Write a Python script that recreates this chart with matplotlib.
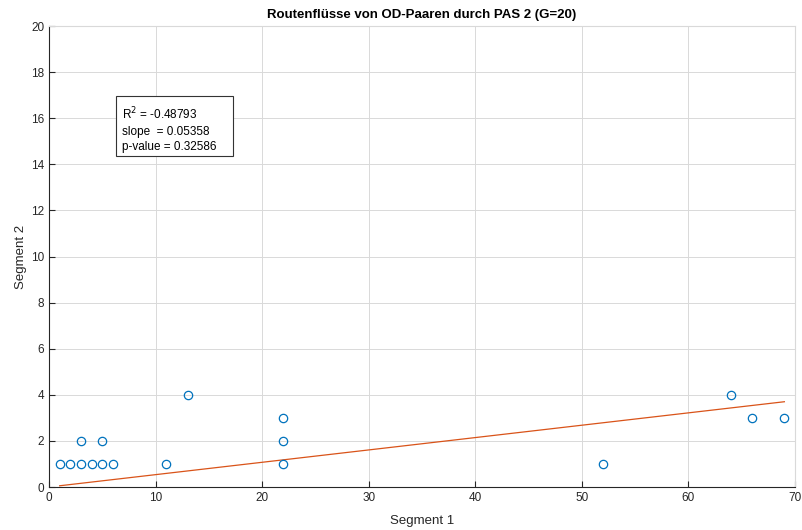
import matplotlib
matplotlib.use("Agg")
import matplotlib.pyplot as plt
from matplotlib.patches import Rectangle

plt.rcParams['font.family'] = ['Liberation Sans', 'DejaVu Sans']

seg1 = [1, 2, 3, 3, 4, 5, 5, 6, 11, 13, 22, 22, 22, 52, 64, 66, 69]
seg2 = [1, 1, 1, 2, 1, 1, 2, 1, 1, 4, 1, 2, 3, 1, 4, 3, 3]
fit_x = [1, 69]
fit_y = [0.054, 3.70]
title = "Routenflüsse von OD-Paaren durch PAS 2 (G=20)"
stats_text = "R$^2$ = -0.48793\nslope  = 0.05358\np-value = 0.32586"

fig = plt.figure(figsize=(8.02, 5.30), dpi=100)
ax = fig.add_axes([0.0611, 0.0811, 0.9302, 0.8698])

axc = (0.15, 0.15, 0.15)
lite = (0.85, 0.85, 0.85)
ax.plot(seg1, seg2, linestyle='none', marker='o', markersize=6, markerfacecolor='none',
        markeredgecolor='#0072BD', markeredgewidth=0.9, zorder=3)
ax.plot(fit_x, fit_y, color='#D95319', linewidth=0.9, zorder=2)

ax.set_xlim(0, 70)
ax.set_ylim(0, 20)
ax.set_xticks(range(0, 71, 10))
ax.set_yticks(range(0, 21, 2))
ax.grid(True, color=lite, linewidth=0.7)
ax.set_axisbelow(True)
for side in ['left', 'bottom']:
    ax.spines[side].set_color(axc)
    ax.spines[side].set_linewidth(0.8)
for side in ['top', 'right']:
    ax.spines[side].set_color(lite)
    ax.spines[side].set_linewidth(0.8)
ax.tick_params(colors=axc, labelsize=8.5, direction='in', length=4, width=0.8)
ax.set_xlabel("Segment 1", fontsize=9.5, color=axc, labelpad=8)
ax.set_ylabel("Segment 2", fontsize=9.5, color=axc, labelpad=3)
ax.set_title(title, fontsize=9.5, fontweight='bold', color='black', pad=6)

ax.add_patch(Rectangle((0.0898, 0.718), 0.1567, 0.1305, transform=ax.transAxes,
                       facecolor='white', edgecolor=(0.2, 0.2, 0.2), linewidth=0.8,
                       zorder=5, clip_on=False))
ax.text(0.0979, 0.776, stats_text, transform=ax.transAxes, fontsize=8.5, color='black',
        va='center', ha='left', linespacing=1.35, zorder=6)

fig.savefig("out.png", dpi=100)
